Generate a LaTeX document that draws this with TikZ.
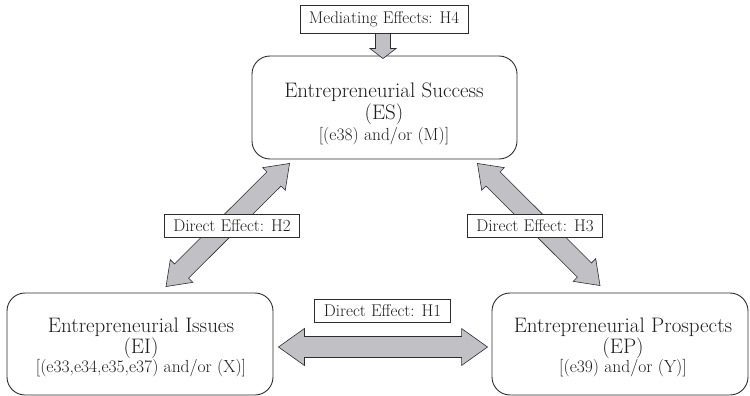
\documentclass[tikz,border=0pt]{standalone}
\usetikzlibrary{calc}
\definecolor{arrowgray}{RGB}{192,192,197}
\definecolor{lineink}{RGB}{45,45,45}
\definecolor{textink}{RGB}{30,30,30}
\pgfdeclarelayer{front}
\pgfsetlayers{main,front}
\newcommand\dblfat[5]{%
  \filldraw[fatarrow] (#1) -- ($(#1)!#3!(#2)!#4!90:(#2)$) -- ($(#1)!#3!(#2)!#5!90:(#2)$)
   -- ($(#2)!#3!(#1)!#5!-90:(#1)$) -- ($(#2)!#3!(#1)!#4!-90:(#1)$) -- (#2)
   -- ($(#2)!#3!(#1)!#4!90:(#1)$) -- ($(#2)!#3!(#1)!#5!90:(#1)$)
   -- ($(#1)!#3!(#2)!#5!-90:(#2)$) -- ($(#1)!#3!(#2)!#4!-90:(#2)$) -- cycle;}
\newcommand\sglfat[5]{%
  \filldraw[fatarrow] ($(#1)!#5!90:(#2)$) -- ($(#2)!#3!(#1)!#5!-90:(#1)$)
   -- ($(#2)!#3!(#1)!#4!-90:(#1)$) -- (#2) -- ($(#2)!#3!(#1)!#4!90:(#1)$)
   -- ($(#2)!#3!(#1)!#5!90:(#1)$) -- ($(#1)!#5!-90:(#2)$) -- cycle;}
\begin{document}
\begin{tikzpicture}[x=1pt,y=-1pt,
  bigbox/.style={draw=lineink,line width=0.9pt,rounded corners=18pt,fill=white,inner sep=0pt},
  labelbox/.style={draw=lineink,line width=0.8pt,fill=white,inner xsep=9pt,inner ysep=0pt,
    minimum height=23pt,text=textink,font=\fontsize{17}{19}\selectfont},
  maintext/.style={anchor=base,text=textink,inner sep=0pt,font=\fontsize{21}{23}\selectfont},
  subtext/.style={anchor=base,text=textink,inner sep=0pt,font=\fontsize{17.5}{19}\selectfont},
  fatarrow/.style={fill=arrowgray,draw=lineink,line width=0.6pt,line join=miter}]
\useasboundingbox (0,0) rectangle (750,396);
% boxes
\node[bigbox,minimum width=265pt,minimum height=103pt] (es) at (384.5,107.5) {};
\node[bigbox,minimum width=266pt,minimum height=102pt] (ei) at (140,344) {};
\node[bigbox,minimum width=256pt,minimum height=102pt] (ep) at (620,344) {};
% texts
\node[maintext] (es1) at (384,98) {Entrepreneurial Success};
\node[maintext] (es2) at (384,120) {(ES)};
\node[subtext]  (es3) at (384,140) {[(e38) and/or (M)]};
\node[maintext] (ei1) at (141,332) {Entrepreneurial Issues};
\node[maintext] (ei2) at (141,353) {(EI)};
\node[subtext]  (ei3) at (141,372) {[(e33,e34,e35,e37) and/or (X)]};
\node[maintext] (ep1) at (623,332) {Entrepreneurial Prospects};
\node[maintext] (ep2) at (623,353) {(EP)};
\node[subtext]  (ep3) at (623,372) {[(e39) and/or (Y)]};
% labels (drawn in front of the arrows)
\begin{pgfonlayer}{front}
\node[labelbox,minimum height=28pt] (lab4) at (384,19) {Mediating Effects: H4};
\node[labelbox] (lab1) at (382.5,310.5) {Direct Effect: H1};
\node[labelbox] (lab2) at (232,225.5) {Direct Effect: H2};
\node[labelbox] (lab3) at (535,225.5) {Direct Effect: H3};
\end{pgfonlayer}
% arrow end points
\coordinate (h1a) at ([shift={(5,3)}]ei.east);
\coordinate (h1b) at ([shift={(-4,3)}]ep.west);
\coordinate (h2a) at ([shift={(26,-6)}]ei.north);
\coordinate (h2b) at ([shift={(38,4)}]es.south west);
\coordinate (h3a) at ([shift={(-40,4)}]es.south east);
\coordinate (h3b) at ([shift={(-20,-7)}]ep.north);
\coordinate (h4b) at ([shift={(-1.5,3)}]es.north);
\coordinate (h4a) at (lab4.south -| h4b);
% arrows
\dblfat{h1a}{h1b}{26pt}{18.5pt}{10.5pt}
\dblfat{h2a}{h2b}{22pt}{16pt}{10pt}
\dblfat{h3a}{h3b}{22pt}{16pt}{10pt}
\sglfat{h4a}{h4b}{10pt}{13pt}{7.5pt}
\end{tikzpicture}
\end{document}
